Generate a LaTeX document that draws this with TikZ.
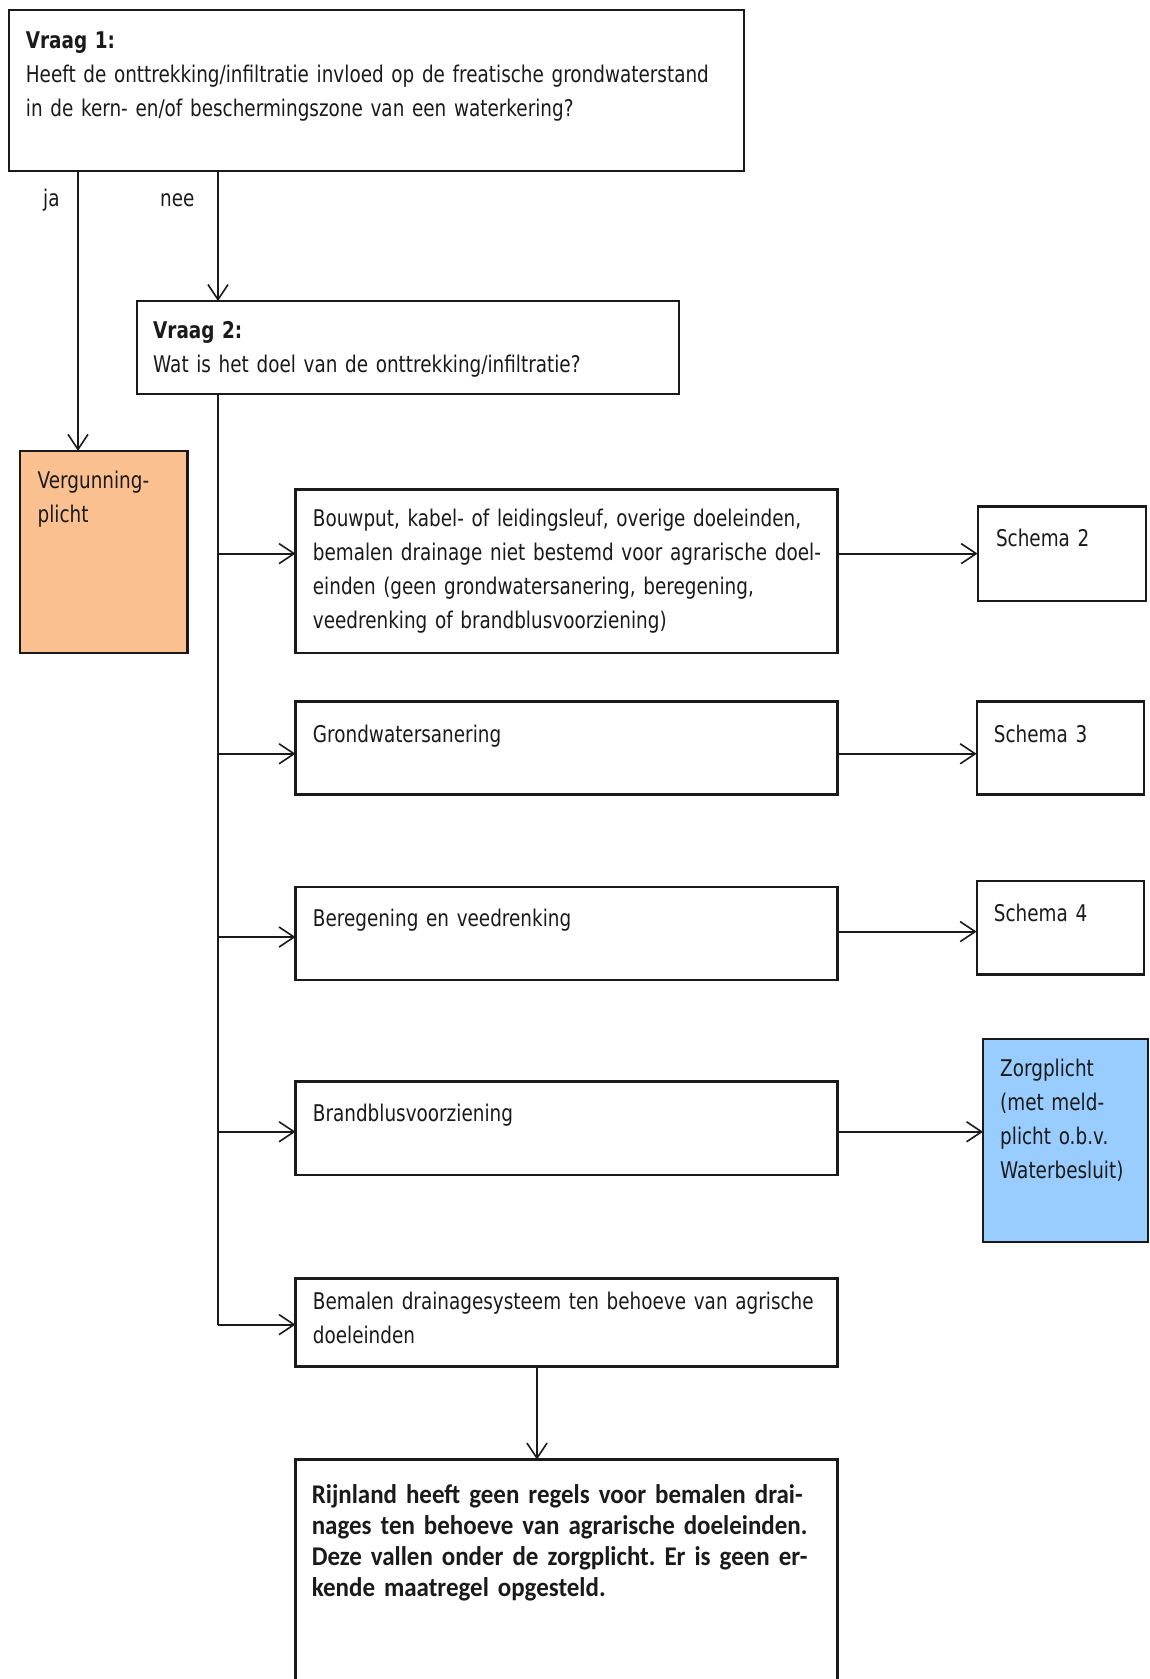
\documentclass[tikz,border=0pt]{standalone}
\usepackage{fontspec}
\setmainfont{DejaVu Sans}[FakeStretch=0.80]
\newfontfamily\calbold{Carlito}[FakeStretch=0.925]
\usetikzlibrary{arrows.meta,calc}
\definecolor{orangefill}{HTML}{FAC090}
\definecolor{bluefill}{HTML}{99CCFF}
\definecolor{ink}{HTML}{1A1A1A}
\newcommand{\mkbox}[6][]{\node[box,#1,minimum width={#4-#2},minimum height={#5-#3}] (#6) at (#2,#3) {};}
\tikzset{
  box/.style={draw=ink, line width=2.2pt, inner sep=0pt, outer sep=0pt, anchor=north west, rectangle, fill=white},
  txt/.style={anchor=base west, inner sep=0pt, align=left, text width=#1, text=ink, font=\fontsize{23}{34}\selectfont},
  txt/.default=760pt,
  conn/.style={draw=ink, line width=1.8pt},
  arr/.style={conn, -{Straight Barb[length=15pt,width=20pt,line width=1.6pt]}}
}
\frenchspacing
\begin{document}
\begin{tikzpicture}[x=1pt,y=-1pt]
\useasboundingbox[fill=white] (0,0) rectangle (1150,1679);
% boxes
\mkbox{8.6}{9.6}{744.2}{171.3}{q1}
\mkbox{137}{301}{679}{394}{q2}
\mkbox[fill=orangefill]{20.3}{450.8}{187.4}{653.2}{verg}
\mkbox{295.5}{489.4}{837.4}{653.2}{b1}
\mkbox{977.6}{506.5}{1145.8}{600.7}{s2}
\mkbox{295.5}{701.4}{837.4}{794.5}{b2}
\mkbox{976.6}{701.4}{1143.6}{794.5}{s3}
\mkbox{295.5}{886.6}{837.4}{979.8}{b3}
\mkbox{976.6}{881.3}{1143.6}{974.4}{s4}
\mkbox{295.5}{1081.5}{837.4}{1174.6}{b4}
\mkbox[fill=bluefill]{983}{1038.7}{1148}{1242}{zorg}
\mkbox{295.5}{1278.5}{837.4}{1366.4}{b5}
\mkbox{295.5}{1459.5}{837.4}{1720}{rl}
% helper coordinates
\coordinate (jaX) at (78,0);
\coordinate (trX) at (218,0);
\coordinate (dnX) at (537,0);
\coordinate (y1) at (0,553.6);
\coordinate (y2) at (0,753.8);
\coordinate (y3) at (0,937);
\coordinate (y3r) at (0,931.6);
\coordinate (y4) at (0,1131.8);
\coordinate (y5) at (0,1324.6);
% connectors
\draw[arr] (q1.south -| jaX) -- (verg.north -| jaX);
\draw[arr] (q1.south -| trX) -- (q2.north -| trX);
\draw[conn] (q2.south -| trX) -- (trX |- y5);
\draw[arr] (trX |- y1) -- (b1.west |- y1);
\draw[arr] (trX |- y2) -- (b2.west |- y2);
\draw[arr] (trX |- y3) -- (b3.west |- y3);
\draw[arr] (trX |- y4) -- (b4.west |- y4);
\draw[arr] (trX |- y5) -- (b5.west |- y5);
\draw[arr] (b1.east |- y1) -- (s2.west |- y1);
\draw[arr] (b2.east |- y2) -- (s3.west |- y2);
\draw[arr] (b3.east |- y3r) -- (s4.west |- y3r);
\draw[arr] (b4.east |- y4) -- (zorg.west |- y4);
\draw[arr] (b5.south -| dnX) -- (rl.north -| dnX);
% texts
\node[txt] (q1t) at (25.7,48.5) {\textbf{Vraag 1:}\\Heeft de onttrekking/infiltratie invloed op de freatische grondwaterstand\\in de kern- en/of beschermingszone van een waterkering?};
\node[txt] (ja) at (43,206) {ja};
\node[txt] (nee) at (160,206) {nee};
\node[txt] (q2t) at (153,338.4) {\textbf{Vraag 2:}\\Wat is het doel van de onttrekking/infiltratie?};
\node[txt] (vergt) at (37.5,488.3) {Vergunning-\\plicht};
\node[txt] (b1t) at (312.7,526.8) {Bouwput, kabel- of leidingsleuf, overige doeleinden,\\bemalen drainage niet bestemd voor agrarische doel-\\einden (geen grondwatersanering, beregening,\\veedrenking of brandblusvoorziening)};
\node[txt] (s2t) at (995.8,546) {Schema 2};
\node[txt] (b2t) at (312.7,742) {Grondwatersanering};
\node[txt] (s3t) at (993.7,742) {Schema 3};
\node[txt] (b3t) at (312.7,926) {Beregening en veedrenking};
\node[txt] (s4t) at (993.7,921) {Schema 4};
\node[txt] (b4t) at (312.7,1121) {Brandblusvoorziening};
\node[txt] (zorgt) at (1000,1076) {Zorgplicht\\(met meld-\\plicht o.b.v.\\Waterbesluit)};
\node[txt] (b5t) at (312.7,1309.5) {Bemalen drainagesysteem ten behoeve van agrische\\doeleinden};
\node[txt, font={\calbold\bfseries\fontsize{27}{31}\selectfont}] (rlt) at (311.6,1503) {Rijnland heeft geen regels voor bemalen drai-\\nages ten behoeve van agrarische doeleinden.\\Deze vallen onder de zorgplicht. Er is geen er-\\kende maatregel opgesteld.};
\end{tikzpicture}
\end{document}
